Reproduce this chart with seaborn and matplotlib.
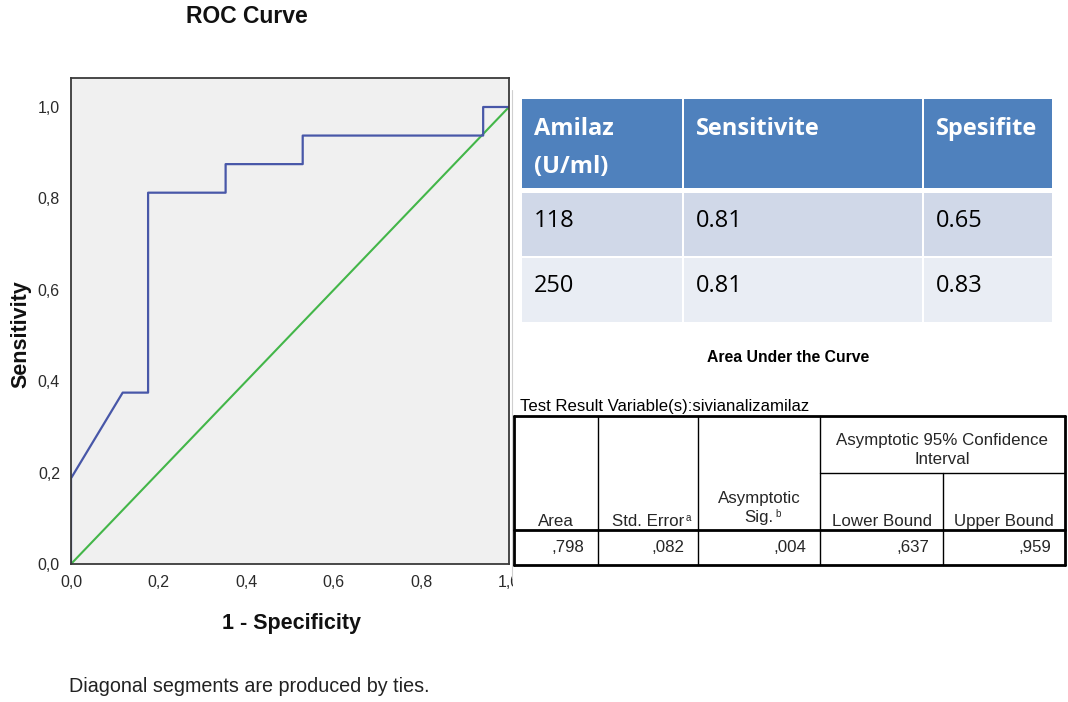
import matplotlib
matplotlib.use("Agg")
import matplotlib.pyplot as plt
from matplotlib import font_manager as fm
from matplotlib.patches import Rectangle
import seaborn as sns
import pandas as pd

# ---------------- data ----------------
fpr = [0.0, 0.0, 0.118, 0.176, 0.176, 0.353, 0.353, 0.529, 0.529, 0.941, 0.941, 1.0]
tpr = [0.0, 0.1875, 0.375, 0.375, 0.8125, 0.8125, 0.875, 0.875, 0.9375, 0.9375, 1.0, 1.0]
ref_x = [0.0, 1.0]
ref_y = [0.0, 1.0]
tick_vals = [0.0, 0.2, 0.4, 0.6, 0.8, 1.0]
tick_labels = ["0,0", "0,2", "0,4", "0,6", "0,8", "1,0"]

cut_header = ["Amilaz\n(U/ml)", "Sensitivite", "Spesifite"]
cut_values = ["118", "250"]
cut_sens = ["0.81", "0.81"]
cut_spec = ["0.65", "0.83"]

auc_headers = ["Area", "Std. Error", "Sig.", "Lower Bound", "Upper Bound"]
auc_values = [",798", ",082", ",004", ",637", ",959"]

# ---------------- fonts ----------------
sns.set_style("white")
names = {f.name for f in fm.fontManager.ttflist}
base = "Liberation Sans" if "Liberation Sans" in names else "DejaVu Sans"
plt.rcParams["font.family"] = [base, "DejaVu Sans"]
if "Liberation Sans Narrow" in names:
    narrow, nscale = "Liberation Sans Narrow", 1.0
else:
    narrow, nscale = base, 0.84
cal = "Open Sans" if "Open Sans" in names else base

W, H = 1068, 702
fig = plt.figure(figsize=(W / 100, H / 100), dpi=100)
fig.patch.set_facecolor("white")

# ---------------- ROC axes ----------------
L, R, T, B = 71, 509, 78, 564
ax = fig.add_axes([L / W, 1 - B / H, (R - L) / W, (B - T) / H])
ax.set_facecolor("#f0f0f0")
roc = pd.DataFrame({"fpr": fpr, "tpr": tpr})
ref = pd.DataFrame({"x": ref_x, "y": ref_y})
sns.lineplot(data=ref, x="x", y="y", sort=False, estimator=None, color="#43b649",
             linewidth=1.5, ax=ax)
sns.lineplot(data=roc, x="fpr", y="tpr", sort=False, estimator=None, color="#4857a8",
             linewidth=1.6, ax=ax)
ax.set_xlim(0, 1)
ax.set_ylim(0, (B - T) / 457)
ax.set_xticks(tick_vals)
ax.set_xticklabels(tick_labels)
ax.set_yticks(tick_vals)
ax.set_yticklabels(tick_labels)
ax.tick_params(axis="both", direction="out", length=6, width=1.3, color="#333333",
               labelsize=11.5, labelcolor="#2a2a2a", pad=2)
for s in ax.spines.values():
    s.set_color("#3a3a3a")
    s.set_linewidth(1.3)
ax.set_xlabel("1 - Specificity", fontsize=15.5, fontweight="bold", color="#111111")
ax.set_ylabel("Sensitivity", fontsize=15.5, fontweight="bold", color="#111111")
ax.xaxis.set_label_coords((291 - L) / (R - L), -(624 - B) / (B - T))
ax.xaxis.label.set_va("center")
ax.yaxis.set_label_coords((21 - L) / (R - L), (B - 334) / (B - T))
ax.yaxis.label.set_va("center")
ax.yaxis.label.set_ha("center")
ax.set_title("ROC Curve", fontsize=16.5, fontweight="bold", color="#111111",
             x=(247 - L) / (R - L), y=(B - 16.5) / (B - T), va="center", pad=0)

# ---------------- overlay (pixel coordinates) ----------------
ov = fig.add_axes([0, 0, 1, 1], zorder=5)
ov.set_xlim(0, W)
ov.set_ylim(H, 0)
ov.axis("off")
ov.patch.set_alpha(0)

# clip the right part of the last x tick label and the pasted-image edge
ov.add_patch(Rectangle((513, 567), 40, 35, facecolor="white", edgecolor="none"))
ov.plot([511.5, 511.5], [90, 578], color="#cfcfcf", linewidth=0.8)

# footnote
ov.text(69, 686, "Diagonal segments are produced by ties.", fontsize=14.2,
        color="#222222", ha="left", va="center")

# ---------------- blue cut-off table ----------------
cols = [(522, 682), (684, 922), (924, 1052)]
rows = [(99, 188), (193, 256), (258, 322)]
row_colors = ["#4f81bd", "#d0d8e8", "#e9edf4"]
for (y0, y1), c in zip(rows, row_colors):
    for (x0, x1) in cols:
        ov.add_patch(Rectangle((x0, y0), x1 - x0, y1 - y0, facecolor=c, edgecolor="none"))
for (x0, _), h in zip(cols, cut_header):
    ov.text(x0 + 12, 117, h, fontsize=17, fontweight="bold", color="white",
            family=cal, ha="left", va="top", linespacing=1.75)
body = [cut_values, cut_sens, cut_spec]
for ri, (y0, _) in enumerate(rows[1:]):
    for ci, (x0, _) in enumerate(cols):
        ov.text(x0 + 12, y0 + 28, body[ci][ri], fontsize=17, color="black",
                family=cal, ha="left", va="center")

# ---------------- SPSS AUC table ----------------
ov.text(788, 357, "Area Under the Curve", fontsize=13.5 * nscale, fontweight="bold",
        family=narrow, color="black", ha="center", va="center")
ov.text(520, 411, "Test Result Variable(s):sivianalizamilaz", fontsize=14.4 * nscale,
        family=narrow, color="black", ha="left", va="baseline")

xs = [514, 598, 698, 820, 943, 1065]
top, sub, hdr, bot = 416, 473, 530, 565
thick, thin = 2.0, 1.0
ov.plot([xs[0], xs[-1]], [top, top], color="black", linewidth=thick)
ov.plot([xs[0], xs[-1]], [bot, bot], color="black", linewidth=thick)
ov.plot([xs[0], xs[-1]], [hdr, hdr], color="black", linewidth=thick)
ov.plot([xs[0], xs[0]], [top, bot], color="black", linewidth=thick)
ov.plot([xs[-1], xs[-1]], [top, bot], color="black", linewidth=thick)
for x in xs[1:-1]:
    y_start = sub if x == xs[4] else top
    ov.plot([x, x], [y_start, bot], color="black", linewidth=thin)
ov.plot([xs[3], xs[-1]], [sub, sub], color="black", linewidth=thin)

fs = 14.5 * nscale
ov.text((xs[3] + xs[5]) / 2, 440, "Asymptotic 95% Confidence", fontsize=fs,
        family=narrow, ha="center", va="center")
ov.text((xs[3] + xs[5]) / 2, 460, "Interval", fontsize=fs, family=narrow,
        ha="center", va="center")
ov.text((xs[2] + xs[3]) / 2, 503, "Asymptotic", fontsize=fs, family=narrow,
        ha="center", va="baseline")
sup = {1: "a", 2: "b"}
for i, h in enumerate(auc_headers):
    cx = (xs[i] + xs[i + 1]) / 2
    y = 522 if i == 2 else 526
    t = ov.text(cx, y, h, fontsize=fs, family=narrow, ha="center", va="baseline")
    if i in sup:
        ov.annotate(sup[i], xy=(1.0, 0.75), xycoords=t, xytext=(1, 0),
                    textcoords="offset points", fontsize=8.5 * nscale, family=narrow,
                    ha="left", va="center")
for i, v in enumerate(auc_values):
    ov.text(xs[i + 1] - 14, 548, v, fontsize=fs, family=narrow, ha="right", va="center")

fig.savefig("out.png", dpi=100, facecolor="white")
